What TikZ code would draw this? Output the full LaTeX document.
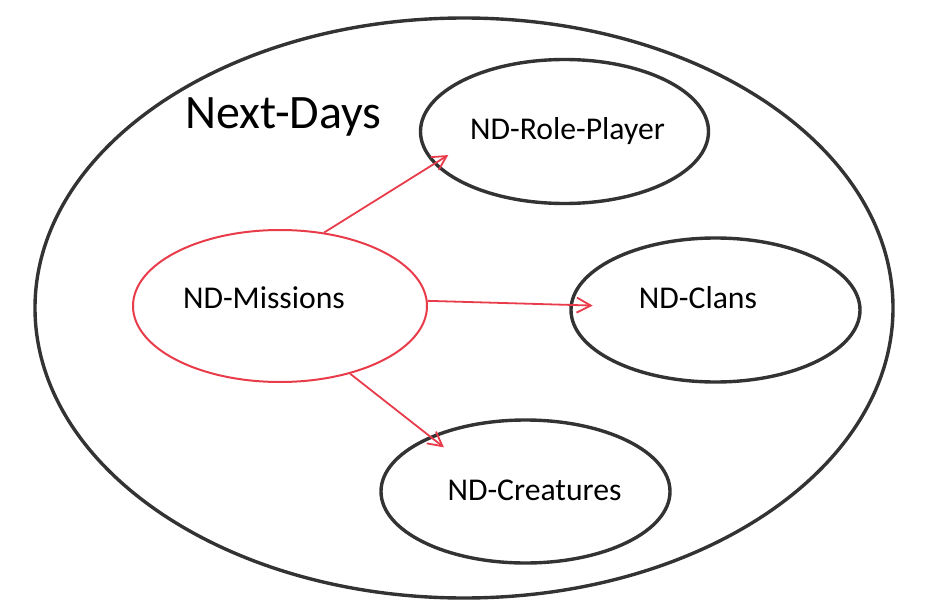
\documentclass[tikz,border=0pt]{standalone}
\usepackage{fontspec}
\setmainfont{Carlito}
\usetikzlibrary{shapes.geometric,arrows.meta}
\definecolor{linkred}{RGB}{233,60,75}
\definecolor{rimgray}{RGB}{51,51,51}

\begin{document}
\begin{tikzpicture}[x=1pt,y=-1pt,
  blob/.style={ellipse,draw=rimgray,line width=3.4pt,inner sep=0pt},
  link/.style={draw=linkred,line width=1.8pt,-{Straight Barb[length=14pt,width=15pt]}},
  lbl/.style={anchor=base,font=\fontsize{31.7}{38}\selectfont}]
\useasboundingbox (0,0) rectangle (936,604);
\node[blob,minimum width=858pt,minimum height=580pt] (nextdays) at (464,308) {};
\node[anchor=base west,font=\fontsize{48}{56}\selectfont] (title) at (182,129) {Next-Days};
\node[blob,minimum width=288pt,minimum height=144pt] (role) at (564.5,131.5) {};
\node[blob,minimum width=289pt,minimum height=144pt] (clans) at (715.5,310) {};
\node[blob,minimum width=289pt,minimum height=143pt] (creatures) at (525.5,491.5) {};
\node[blob,draw=linkred,line width=2pt,minimum width=294pt,minimum height=152pt] (missions) at (280,306) {};
\node[lbl] (rolelbl) at (567.5,140) {ND-Role-Player};
\node[lbl] (clanslbl) at (698,308) {ND-Clans};
\node[lbl] (creatureslbl) at (534.5,500) {ND-Creatures};
\node[lbl] (missionslbl) at (264,308) {ND-Missions};
\draw[link,shorten >=-17pt] (missions.59) -- (role.194);
\draw[link,shorten >=-23pt] (missions.2) -- (clans.178);
\draw[link,shorten >=-18pt] (missions.316) -- (creatures.150);
\end{tikzpicture}
\end{document}
